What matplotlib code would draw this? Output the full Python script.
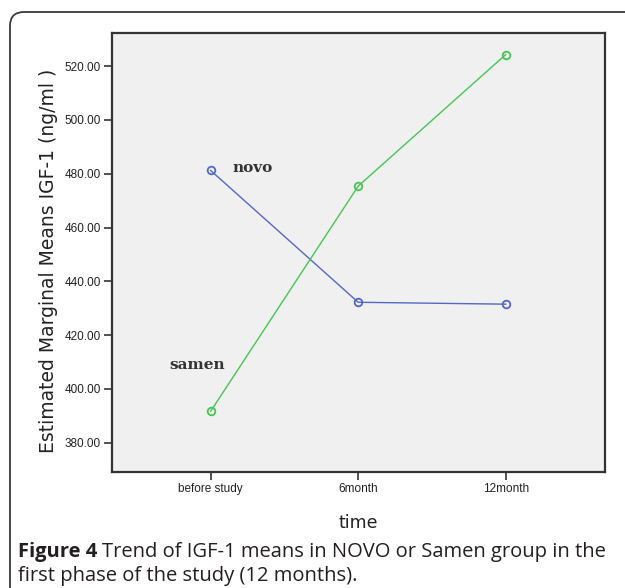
import numpy as np
import matplotlib
matplotlib.use("Agg")
from matplotlib import pyplot as plt
from matplotlib.patches import FancyBboxPatch
from matplotlib.transforms import IdentityTransform

W, H = 625, 588

times = ['before study', '6month', '12month']
novo = [481.2, 432.2, 431.5]
samen = [391.7, 475.4, 524.3]
y_ticks = [380, 400, 420, 440, 460, 480, 500, 520]

BLUE = '#5468c0'
GREEN = '#46c454'

fig = plt.figure(figsize=(W / 100, H / 100), dpi=100)
fig.patch.set_facecolor('white')

# rounded frame around the whole figure panel
frame = FancyBboxPatch((10, -40), 700, H - 12 + 40,
                       boxstyle='round,pad=0,rounding_size=14',
                       transform=IdentityTransform(),
                       fc='none', ec='#3a3a3a', lw=1.3)
fig.add_artist(frame)

left, right, top, bottom = 112, 605, 32.5, 472
ax = fig.add_axes([left / W, 1 - bottom / H, (right - left) / W, (bottom - top) / H])
ax.set_facecolor('#f0f0f0')

x = np.arange(len(times))
ax.plot(x, novo, color=BLUE, lw=1.0, marker='o', ms=5.5, mfc='none',
        mec=BLUE, mew=1.3)
ax.plot(x, samen, color=GREEN, lw=1.0, marker='o', ms=5.5, mfc='none',
        mec=GREEN, mew=1.3)

ax.text(0.15, 482, 'novo', family='DejaVu Serif', weight='bold',
        fontsize=11, color='#333333', va='center', ha='left')
ax.text(-0.28, 409, 'samen', family='DejaVu Serif', weight='bold',
        fontsize=11, color='#333333', va='center', ha='left')

ax.set_xlim(-0.669, 2.673)
ax.set_ylim(369.1, 532.5)
ax.set_xticks(x)
ax.set_xticklabels(times, family='Liberation Sans', fontsize=8.5)
ax.set_yticks(y_ticks)
ax.set_yticklabels(['%.2f' % v for v in y_ticks], family='Liberation Sans',
                   fontsize=8.5)
ax.tick_params(direction='out', length=6, width=1.2, color='#333333',
               labelcolor='#222222', pad=2)

for s in ax.spines.values():
    s.set_linewidth(1.6)
    s.set_color('#333333')

ax.set_ylabel('Estimated Marginal Means IGF-1 (ng/ml )', family='DejaVu Sans',
              fontsize=13.5, color='#222222')
ax.set_xlabel('time', family='DejaVu Sans', fontsize=12.5, color='#222222')
ax.yaxis.set_label_coords((58 - left) / (right - left), 0.48)
ax.xaxis.set_label_coords(0.5, (bottom - 514) / (bottom - top))

# caption with bold lead-in
cap_color = '#231f20'
t1 = fig.text(18 / W, 1 - 552 / H, 'Figure 4', family='Open Sans',
              weight='bold', fontsize=14.5, color=cap_color, va='center')
fig.canvas.draw()
bb = t1.get_window_extent(fig.canvas.get_renderer())
fig.text((bb.x1 + 5) / W, 1 - 552 / H,
         'Trend of IGF-1 means in NOVO or Samen group in the',
         family='Open Sans', fontsize=14.5, color=cap_color, va='center')
fig.text(18 / W, 1 - 576 / H, 'first phase of the study (12 months).',
         family='Open Sans', fontsize=14.5, color=cap_color, va='center')

fig.savefig('out.png', dpi=100)
